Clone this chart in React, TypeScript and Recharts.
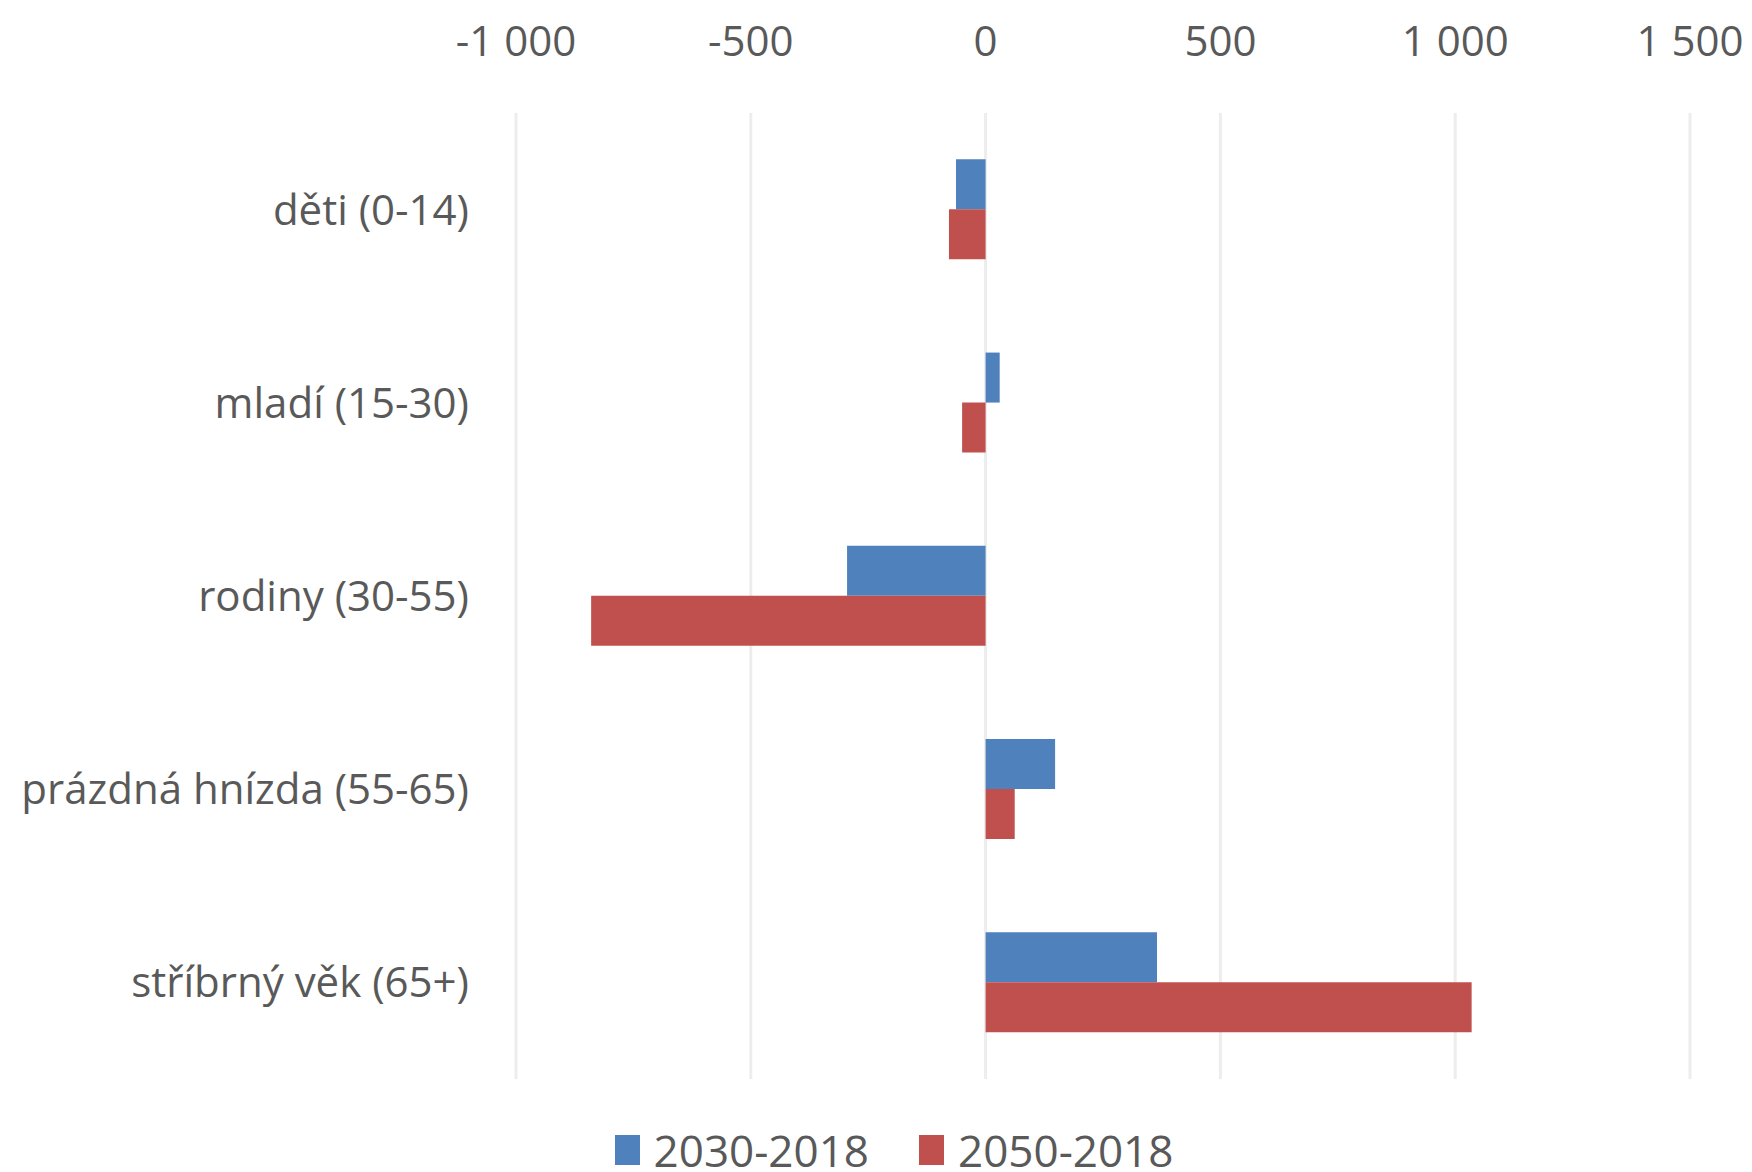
import { BarChart, Bar, XAxis, YAxis, CartesianGrid } from "recharts";

const categories = [
  "děti (0-14)",
  "mladí (15-30)",
  "rodiny (30-55)",
  "prázdná hnízda (55-65)",
  "stříbrný věk (65+)",
];
const change2030 = [-63, 30, -295, 148, 365];
const change2050 = [-78, -50, -840, 62, 1035];
const xTicks = [-1000, -500, 0, 500, 1000, 1500];

const SERIES = [
  { key: "s2030", color: "#4f81bd", label: "2030-2018" },
  { key: "s2050", color: "#c0504d", label: "2050-2018" },
];

const data = categories.map((name, i) => ({
  name,
  s2030: change2030[i],
  s2050: change2050[i],
}));

const FONT = "'Open Sans', sans-serif";
const TEXT = "#595959";

// "1 000" style thousands separator
const fmt = (v: number) => {
  const s = Math.abs(v).toString().replace(/\B(?=(\d{3})+(?!\d))/g, " ");
  return (v < 0 ? "-" : "") + s;
};

export default function App() {
  return (
    <div style={{ position: "relative", width: 1752, height: 1172, background: "#fff", fontFamily: FONT, overflow: "hidden" }}>
      <style>{"body{margin:0}"}</style>
      <BarChart
        width={1752}
        height={1172}
        data={data}
        layout="vertical"
        margin={{ top: 0, right: 62, left: 0, bottom: 93 }}
        barCategoryGap="24%"
        barGap={0}
      >
        <CartesianGrid horizontal={false} stroke="#ededed" strokeWidth={3} />
        <XAxis
          type="number"
          orientation="top"
          height={113}
          domain={[-1000, 1500]}
          ticks={xTicks}
          tickFormatter={fmt}
          axisLine={false}
          tickLine={false}
          tickMargin={51}
          tick={{ fontSize: 42, fill: TEXT, fontFamily: FONT }}
        />
        <YAxis
          type="category"
          dataKey="name"
          width={516}
          axisLine={false}
          tickLine={false}
          tickMargin={41}
          tick={{ fontSize: 42, fill: TEXT, fontFamily: FONT }}
        />
        {SERIES.map(({ key, color }) => (
          <Bar key={key} dataKey={key} fill={color} isAnimationActive={false} />
        ))}
      </BarChart>

      {/* legend below the plot */}
      <div
        style={{
          position: "absolute",
          top: 1128,
          left: 0,
          width: 1752,
          display: "flex",
          justifyContent: "center",
          gap: 50,
          paddingLeft: 36,
          boxSizing: "border-box",
          fontSize: 44,
          lineHeight: "44px",
          color: TEXT,
        }}
      >
        {SERIES.map(({ key, color, label }) => (
          <span key={key} style={{ display: "flex", alignItems: "center", gap: 14 }}>
            <span style={{ width: 25, height: 30, background: color, display: "inline-block" }} />
            {label}
          </span>
        ))}
      </div>
    </div>
  );
}
